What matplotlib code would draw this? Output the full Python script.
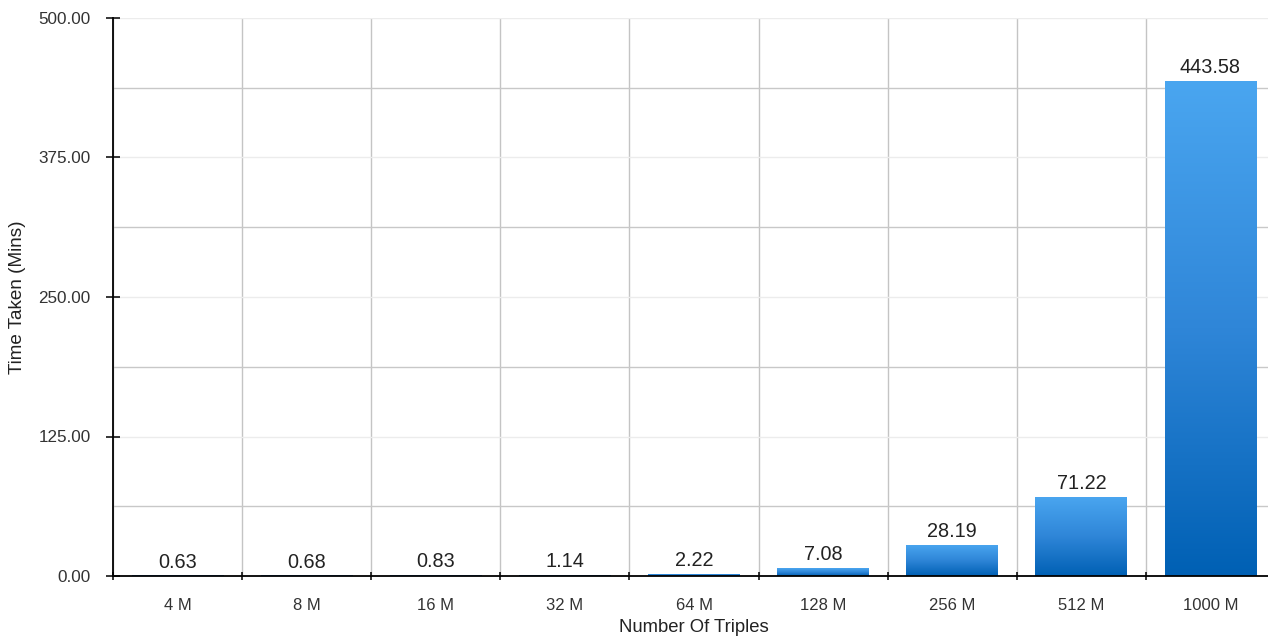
import numpy as np
import matplotlib
matplotlib.use("Agg")
import matplotlib.pyplot as plt
from matplotlib.colors import LinearSegmentedColormap
from matplotlib.ticker import FixedLocator, FormatStrFormatter

plt.rcParams['font.family'] = ['Liberation Sans', 'DejaVu Sans']

categories = ["4 M", "8 M", "16 M", "32 M", "64 M", "128 M", "256 M", "512 M", "1000 M"]
minutes = [0.63, 0.68, 0.83, 1.14, 2.22, 7.08, 28.19, 71.22, 443.58]
y_major = [0, 125, 250, 375, 500]
y_minor = [62.5, 187.5, 312.5, 437.5]

W, H = 1268, 638
fig = plt.figure(figsize=(W / 100, H / 100), dpi=100)
ax = fig.add_axes([113 / W, 62 / H, 1162 / W, 558 / H])

x = np.arange(len(categories))
bars = ax.bar(x, minutes, width=0.71, color="#2a80d4", zorder=2)

# vertical blue gradient inside every bar: light on top, deep blue at the bottom
blue = LinearSegmentedColormap.from_list("bar_blue", ["#0060b4", "#2f86d8", "#4aa6f0"])
grad = np.linspace(0, 1, 256).reshape(-1, 1)
for rect in bars:
    x0, y0 = rect.get_x(), rect.get_y()
    w, h = rect.get_width(), rect.get_height()
    im = ax.imshow(grad, cmap=blue, origin="lower", aspect="auto",
                   extent=(x0, x0 + w, y0, y0 + h), zorder=3, interpolation="bilinear")
    im.set_clip_path(rect)

for xi, v in zip(x, minutes):
    ax.annotate(f"{v:.2f}", (xi, v), xytext=(0, 5.5), textcoords="offset points",
                ha="center", va="baseline", fontsize=14.3, color="#222222", zorder=5)

ax.set_xlim(-0.5, len(categories) - 0.5)
ax.set_ylim(0, 500)

# x: labels at category centres, ticks + grid at category boundaries
ax.set_xticks(x)
ax.set_xticklabels(categories)
ax.xaxis.set_minor_locator(FixedLocator(np.arange(len(categories) + 1) - 0.5))
ax.tick_params(axis="x", which="major", length=0, pad=15.5, labelsize=12, labelcolor="#333333")
ax.tick_params(axis="x", which="minor", direction="inout", length=6, width=1.1, color="black")

# y: labelled major ticks, unlabelled minor grid lines in between
ax.yaxis.set_major_locator(FixedLocator(y_major))
ax.yaxis.set_minor_locator(FixedLocator(y_minor))
ax.yaxis.set_major_formatter(FormatStrFormatter("%.2f"))
ax.tick_params(axis="y", which="major", direction="inout", length=10, width=1.1,
               color="black", pad=11, labelsize=12.3, labelcolor="#333333")
ax.tick_params(axis="y", which="minor", length=0)

ax.set_axisbelow(True)
ax.grid(axis="x", which="minor", color="#c4c4c4", linewidth=1.0)
ax.grid(axis="y", which="major", color="#ececec", linewidth=1.0)
ax.grid(axis="y", which="minor", color="#c8c8c8", linewidth=1.0)

for side in ("top", "right"):
    ax.spines[side].set_visible(False)
for side in ("left", "bottom"):
    ax.spines[side].set_linewidth(1.3)
    ax.spines[side].set_color("black")
    ax.spines[side].set_zorder(6)

ax.set_xlabel("Number Of Triples", fontsize=13.3, color="#222222")
ax.set_ylabel("Time Taken (Mins)", fontsize=13.6, color="#222222")
ax.xaxis.set_label_coords((693.5 - 113) / 1162, -(628 - 576) / 558)
ax.yaxis.set_label_coords(-(113 - 17.5) / 1162, (576 - 297.5) / 558)
ax.xaxis.label.set_va("center")
ax.yaxis.label.set_va("center")

fig.savefig("out.png", dpi=100, facecolor="white")
